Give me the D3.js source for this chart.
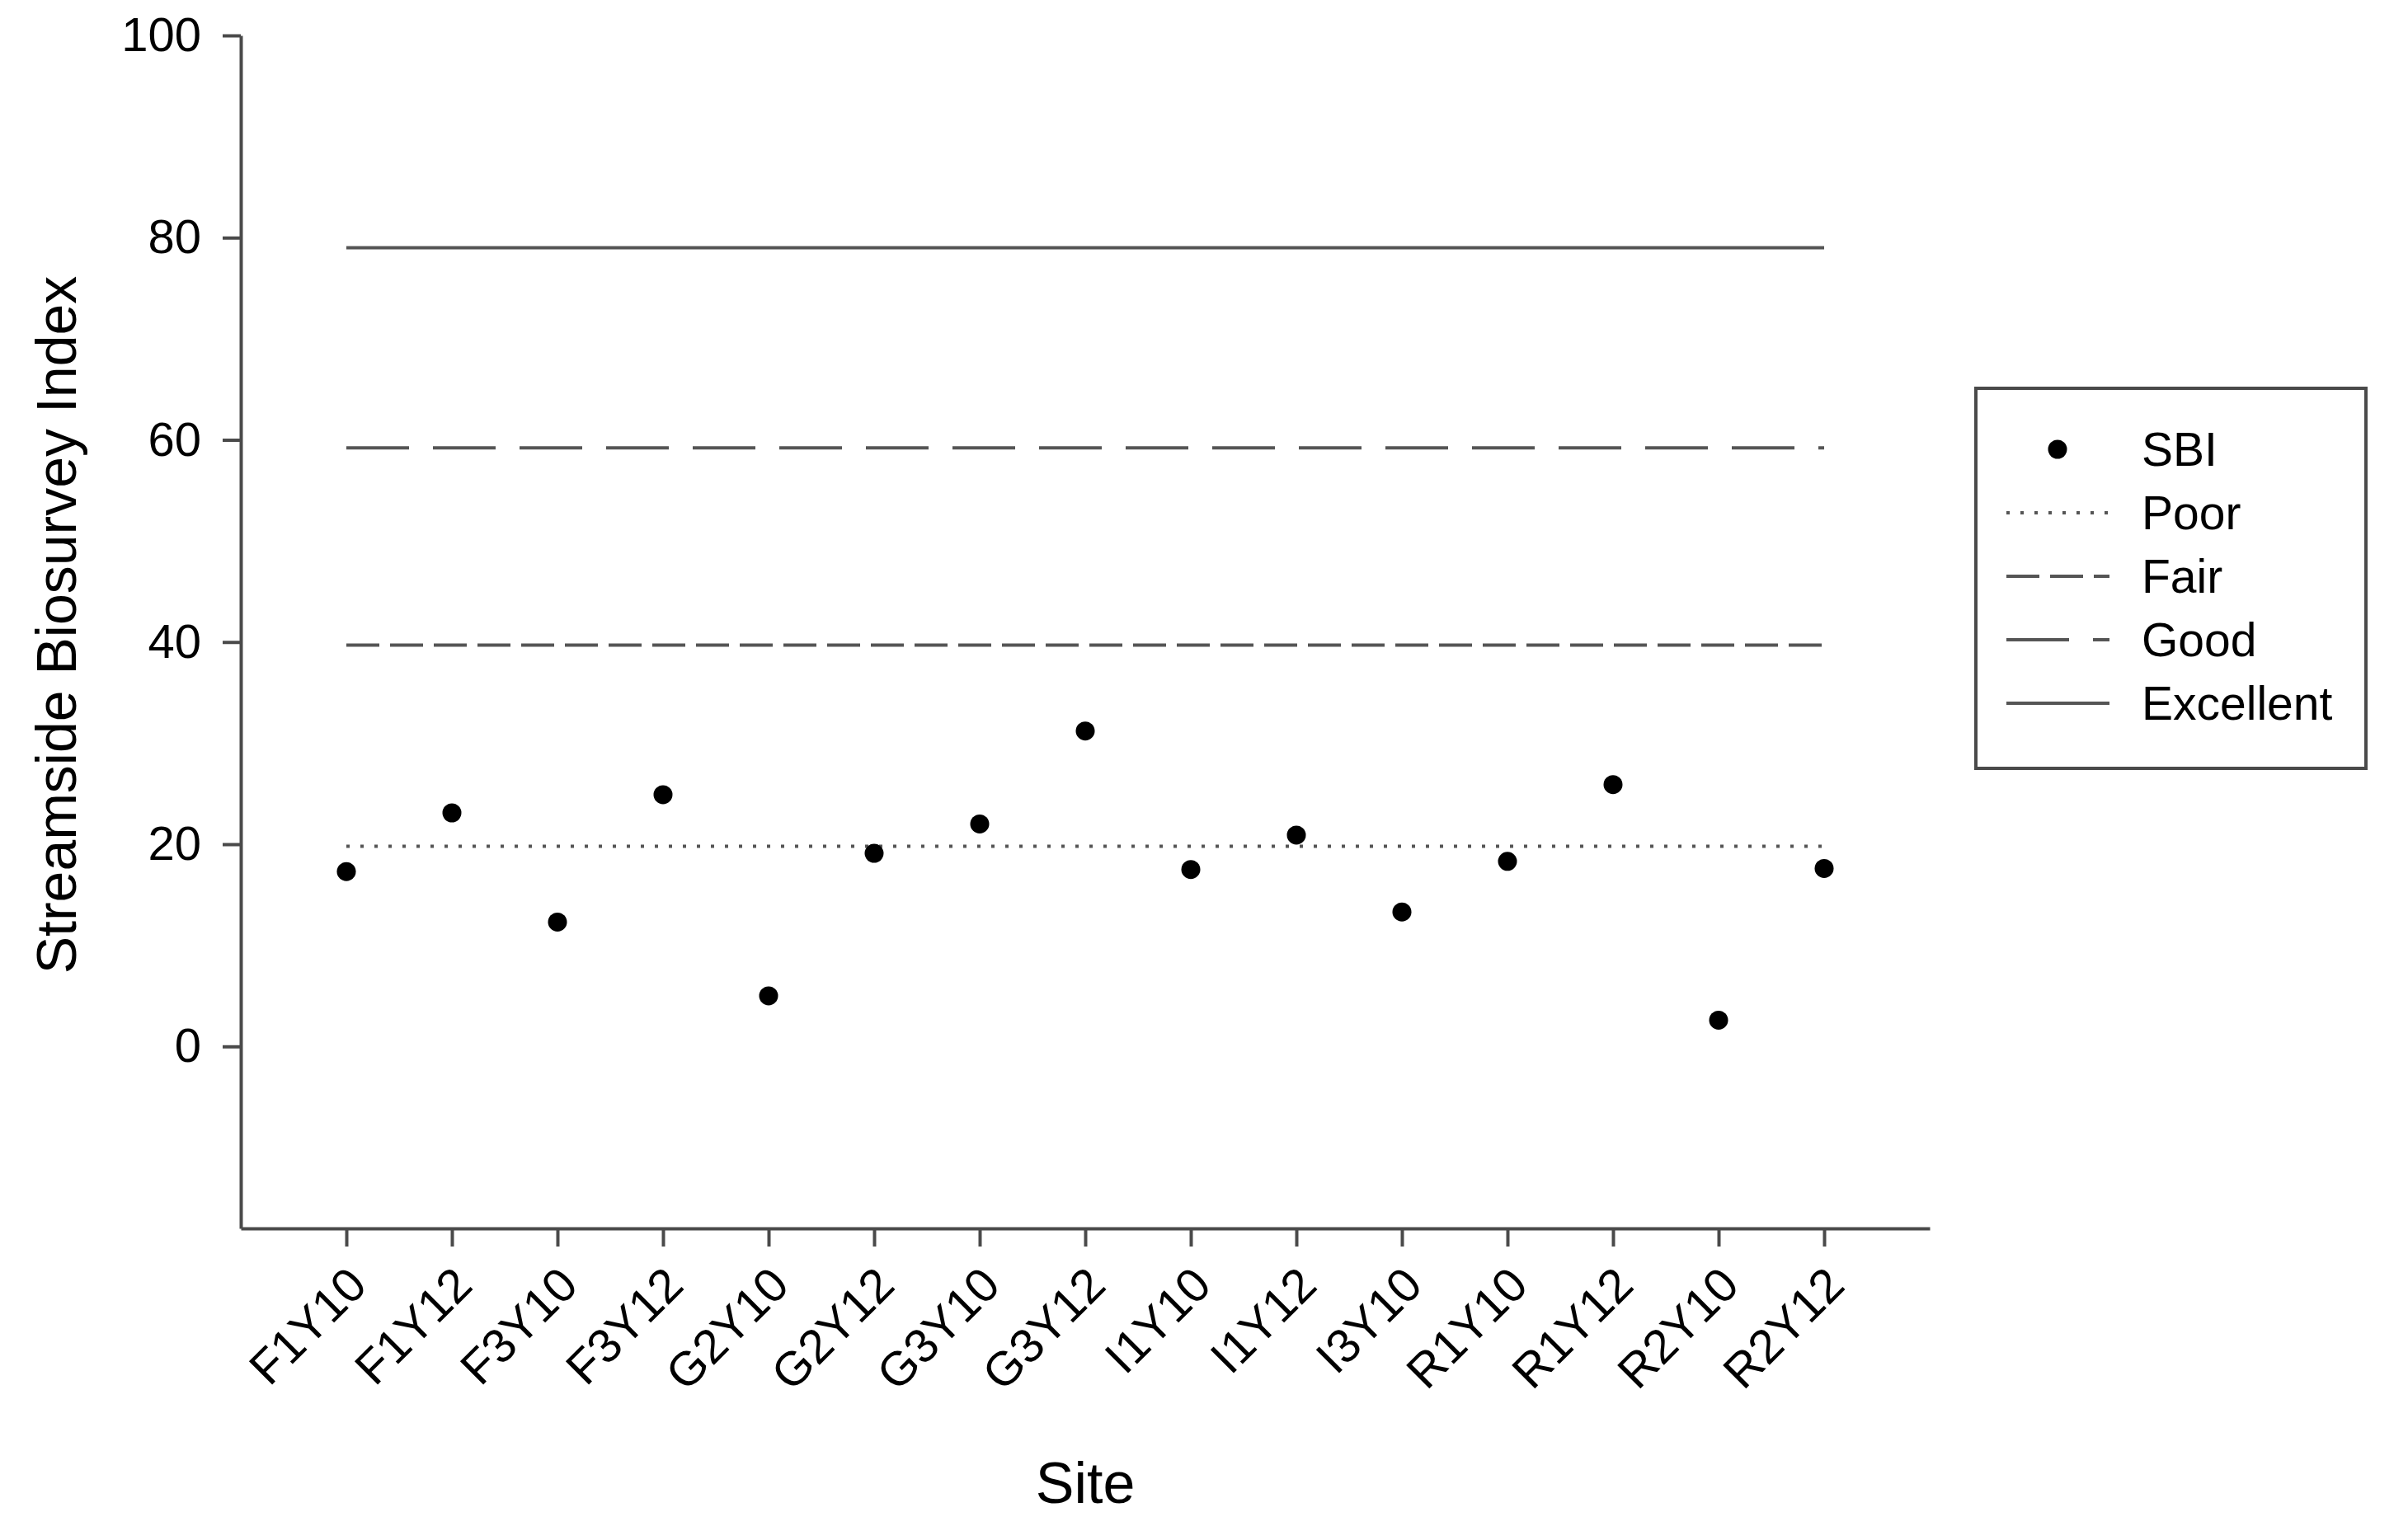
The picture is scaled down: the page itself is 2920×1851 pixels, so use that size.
<!DOCTYPE html>
<html>
<head>
<meta charset="utf-8">
<script src="https://cdnjs.cloudflare.com/ajax/libs/d3/7.8.5/d3.min.js"></script>
<style>
  body { margin: 0; background: #fff; }
  text { font-family: "Liberation Sans", Arial, sans-serif; fill: #000; }
</style>
</head>
<body>
<script>
// Data
var sites = ["F1Y10", "F1Y12", "F3Y10", "F3Y12", "G2Y10", "G2Y12", "G3Y10", "G3Y12",
             "I1Y10", "I1Y12", "I3Y10", "R1Y10", "R1Y12", "R2Y10", "R2Y12"];
var sbi = [17.3, 23.1, 12.3, 24.9, 5.0, 19.1, 22.0, 31.2, 17.5, 20.9, 13.3, 18.3, 25.9, 2.6, 17.6];
var yTicks = [0, 20, 40, 60, 80, 100];

// Condition thresholds
var classNames = ["Poor", "Fair", "Good", "Excellent"];
var classValues = [19.8, 39.7, 59.2, 79.0];
var classDash = ["4,13", "40,13", "76,29", null];

var lineColor = "#555";
var axisColor = "#4a4a4a";

// Create svg container
var graph = d3.select("body").append("svg").attr("width", 2920).attr("height", 1851);

// Scales
var x_scale = d3.scaleLinear().domain([-1, 15]).range([292, 2340]);
var y_scale = d3.scaleLinear().domain([-18, 100]).range([1490, 43]);

// Y-axis
var yAxis = graph.append("g").attr("transform", "translate(292, 0)")
    .call(d3.axisLeft(y_scale).tickValues(yTicks).tickSize(22).tickSizeOuter(0).tickPadding(26));
yAxis.selectAll("text").style("font-size", "58px").style("font-family", "Liberation Sans, Arial, sans-serif").attr("fill", "#000");

// X-axis
var xAxis = graph.append("g").attr("transform", "translate(0, 1490)")
    .call(d3.axisBottom(x_scale).tickValues(d3.range(sites.length)).tickSize(22).tickSizeOuter(0)
        .tickFormat(function(i) { return sites[i]; }));
xAxis.selectAll("text")
    .style("font-size", "58px").style("font-family", "Liberation Sans, Arial, sans-serif").attr("fill", "#000")
    .attr("text-anchor", "end")
    .attr("dy", null)
    .attr("y", 0)
    .attr("transform", "translate(27, 72) rotate(-45)");

graph.selectAll(".domain, .tick line").attr("stroke", axisColor).attr("stroke-width", 4);

// Reference lines
graph.selectAll("line.ref").data(classValues).enter().append("line")
    .attr("class", "ref")
    .attr("x1", x_scale(0))
    .attr("x2", x_scale(sites.length - 1))
    .attr("y1", function(d) { return y_scale(d); })
    .attr("y2", function(d) { return y_scale(d); })
    .attr("stroke", lineColor)
    .attr("stroke-width", 4)
    .attr("stroke-dasharray", function(d, i) { return classDash[i]; });

// Plotting points
graph.selectAll("circle.pt").data(sbi).enter().append("circle")
    .attr("class", "pt")
    .attr("cx", function(d, i) { return x_scale(i); })
    .attr("cy", function(d) { return y_scale(d); })
    .attr("r", 11.5)
    .attr("fill", "black");

// Axis labels
graph.append("text").text("Site")
    .attr("x", (x_scale.range()[0] + x_scale.range()[1]) / 2)
    .attr("y", 1823)
    .attr("text-anchor", "middle")
    .style("font-size", "70px");
graph.append("text").text("Streamside Biosurvey Index")
    .attr("transform", "translate(92, 758) rotate(-90)")
    .attr("text-anchor", "middle")
    .style("font-size", "68px");

// Legend
var legend = graph.append("g");
legend.append("rect")
    .attr("x", 2396).attr("y", 471).attr("width", 473).attr("height", 461)
    .attr("fill", "none").attr("stroke", axisColor).attr("stroke-width", 4);

var legendNames = ["SBI"].concat(classNames);
var rows = legend.selectAll("g.row").data(legendNames).enter().append("g")
    .attr("class", "row")
    .attr("transform", function(d, i) { return "translate(0," + (545 + i * 77) + ")"; });

rows.append("text").text(function(d) { return d; })
    .attr("x", 2597).attr("dy", "0.35em")
    .style("font-size", "57px");

rows.filter(function(d, i) { return i == 0; }).append("circle")
    .attr("cx", 2495).attr("cy", 0).attr("r", 11.5).attr("fill", "black");

rows.filter(function(d, i) { return i > 0; }).append("line")
    .attr("x1", 2433).attr("x2", 2558)
    .attr("stroke", lineColor).attr("stroke-width", 4)
    .attr("stroke-dasharray", function(d) { return classDash[classNames.indexOf(d)]; });
</script>
</body>
</html>
